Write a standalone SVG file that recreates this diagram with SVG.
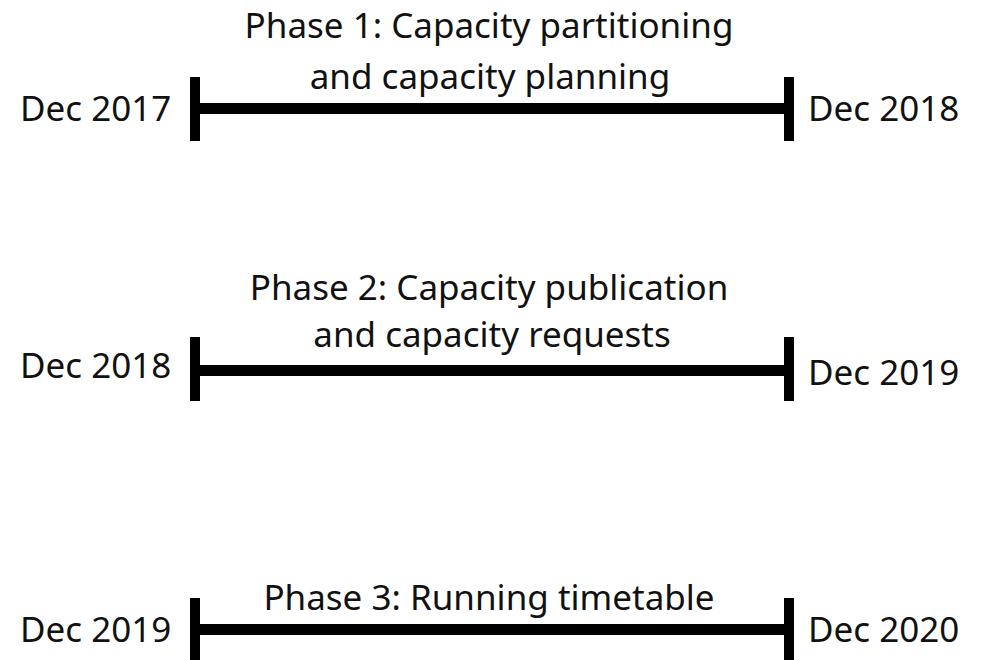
<svg xmlns="http://www.w3.org/2000/svg" width="981" height="660" viewBox="0 0 981 660">
<style>
.t{font-family:"Noto Sans","Open Sans","Liberation Sans",sans-serif;font-size:35px;fill:#111}
.m{text-anchor:middle}
.bar{fill:#000}
</style>
<rect width="981" height="660" fill="#fff"/>
<g id="connectors">
<rect class="bar" x="194" y="103" width="596" height="11"/>
<rect class="bar" x="194" y="365" width="596" height="11"/>
<rect class="bar" x="194" y="624" width="596" height="11"/>
</g>
<g id="phase1">
<rect class="bar" x="190" y="77" width="10" height="64"/>
<rect class="bar" x="784" y="77" width="10" height="64"/>
<text class="t" x="20" y="121">Dec 2017</text>
<text class="t" x="808" y="121">Dec 2018</text>
<text class="t m" x="489" y="38">Phase 1: Capacity partitioning</text>
<text class="t m" x="490" y="89">and capacity planning</text>
</g>
<g id="phase2">
<rect class="bar" x="190" y="337" width="10" height="64"/>
<rect class="bar" x="784" y="337" width="10" height="64"/>
<text class="t" x="20" y="378">Dec 2018</text>
<text class="t" x="808" y="385">Dec 2019</text>
<text class="t m" x="489" y="300">Phase 2: Capacity publication</text>
<text class="t m" x="492" y="347">and capacity requests</text>
</g>
<g id="phase3">
<rect class="bar" x="190" y="598" width="10" height="62"/>
<rect class="bar" x="784" y="598" width="10" height="62"/>
<text class="t" x="20" y="642">Dec 2019</text>
<text class="t" x="808" y="642">Dec 2020</text>
<text class="t m" x="489" y="610">Phase 3: Running timetable</text>
</g>
</svg>
